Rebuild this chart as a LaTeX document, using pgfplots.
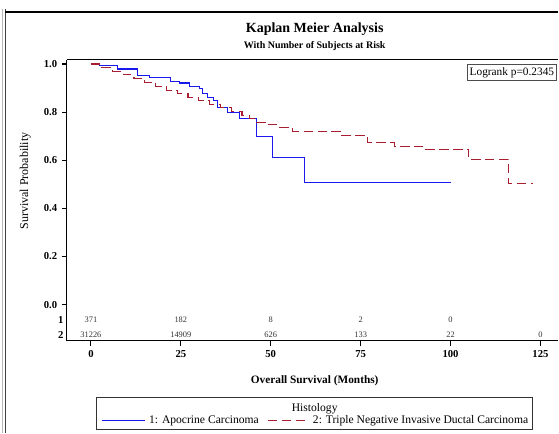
\documentclass[border=0pt]{standalone}
\usepackage{pgfplots}
\pgfplotsset{compat=1.18}
\usepackage{fontspec}
\setmainfont{Liberation Serif}
\definecolor{kmblue}{RGB}{25,25,235}
\definecolor{kmred}{RGB}{170,30,50}
\newcommand{\px}{0.75pt}

\begin{document}
\begin{tikzpicture}
% page area and frame
\path (0,0) rectangle ({559*\px},{-433*\px});
\draw[gray!55, line width=0.7pt] ({2.5*\px},{-9*\px}) -- ({2.5*\px},{-433*\px});
\draw[black!75, line width=0.7pt] ({5.5*\px},{-9*\px}) -- ({5.5*\px},{-433*\px});
\draw[line width=0.8pt] ({5.5*\px},{-12*\px}) -- ({559*\px},{-12*\px});
\draw[line width=0.8pt] ({67*\px},{-60*\px}) -- ({559*\px},{-60*\px});

% titles
\node[font=\fontsize{10.5}{12}\selectfont\bfseries] at ({315*\px},{-29*\px}) {Kaplan Meier Analysis};
\node[font=\fontsize{7.5}{9}\selectfont\bfseries] at ({315*\px},{-46*\px}) {With Number of Subjects at Risk};

\begin{axis}[
  at={({67*\px},{-341*\px})}, anchor=south west,
  scale only axis,
  width={492*\px}, height={281*\px},
  xmin=-6.667, xmax=130,
  ymin=-0.15, ymax=1.0167,
  axis lines*=left,
  axis line style={line width=0.8pt},
  tick align=outside,
  major tick length=3.75pt,
  tick style={line width=0.8pt, black},
  xtick={0,25,50,75,100,125},
  ytick={0,0.2,0.4,0.6,0.8,1.0},
  yticklabel style={/pgf/number format/fixed, /pgf/number format/precision=1, /pgf/number format/fixed zerofill},
  /pgf/number format/assume math mode=true,
  tick label style={font=\fontsize{8}{9}\selectfont\bfseries},
  extra y ticks={-0.0625,-0.125},
  extra y tick labels={1,2},
  extra y tick style={major tick length=0pt, yticklabel style={xshift=1pt}},
  xlabel={Overall Survival (Months)},
  xlabel style={font=\fontsize{8.5}{10}\selectfont\bfseries, at={(axis description cs:0.504,-0.142)}, anchor=center},
  ylabel={Survival Probability},
  ylabel style={font=\fontsize{9}{10}\selectfont, at={(axis description cs:-0.085,0.569)}, anchor=center},
  clip=false,
]
% 1: Apocrine Carcinoma
\addplot[const plot, color=kmblue, line width=0.8pt] coordinates {
  (0,1.0) (2.5,0.992) (7.5,0.979) (13,0.954) (16.4,0.942) (22,0.929)
  (24.7,0.921) (27.5,0.908) (30.3,0.900) (31,0.879) (32.5,0.8625)
  (34,0.850) (35.3,0.820) (38,0.800) (41.4,0.775) (46,0.700)
  (50.5,0.6125) (59.4,0.508) (100,0.508)
};
% 2: Triple Negative Invasive Ductal Carcinoma
\addplot[const plot, color=kmred, line width=0.9pt, dash pattern=on 7pt off 3.5pt] coordinates {
  (0,1.0) (3,0.985) (6,0.970) (9,0.955) (12,0.940) (15,0.923) (18,0.906)
  (21,0.890) (24,0.876) (27,0.862) (30,0.848) (33,0.833) (36,0.818)
  (39,0.802) (42,0.785) (44,0.772) (46,0.758) (49,0.748) (52.5,0.7375)
  (56.1,0.721) (69.7,0.704) (76.9,0.675) (84.4,0.658) (92.2,0.646)
  (105,0.604) (116.1,0.504) (122.8,0.504)
};
% numbers at risk
\addplot[draw=none, mark=none, nodes near coords, point meta=explicit symbolic,
  every node near coord/.style={anchor=center, font=\fontsize{6.3}{7}\selectfont, text=black!80}]
  coordinates {
  (0,-0.0625)[371] (25,-0.0625)[182] (50,-0.0625)[8] (75,-0.0625)[2] (100,-0.0625)[0]
  (0,-0.125)[31226] (25,-0.125)[14909] (50,-0.125)[626] (75,-0.125)[133] (100,-0.125)[22] (125,-0.125)[0]
};
\end{axis}

% logrank box
\node[draw=black!70, line width=0.6pt, anchor=north east, inner sep=1.5pt, minimum height={16*\px},
  font=\fontsize{8.5}{10}\selectfont] at ({557*\px},{-64*\px}) {Logrank p=0.2345};

% legend
\draw[line width=0.7pt, black!80] ({97*\px},{-398*\px}) rectangle ({533*\px},{-430*\px});
\node[font=\fontsize{8.7}{10}\selectfont] at ({315*\px},{-409*\px}) {Histology};
\draw[kmblue, line width=0.8pt] ({102*\px},{-421*\px}) -- ({145*\px},{-421*\px});
\node[anchor=west, inner sep=0pt, font=\fontsize{8.7}{10}\selectfont] at ({149*\px},{-421*\px}) {1: Apocrine Carcinoma};
\draw[kmred, line width=0.9pt, dash pattern=on 7pt off 3.5pt] ({268*\px},{-421*\px}) -- ({308*\px},{-421*\px});
\node[anchor=west, inner sep=0pt, font=\fontsize{8.7}{10}\selectfont] at ({313*\px},{-421*\px}) {2: Triple Negative Invasive Ductal Carcinoma};
\end{tikzpicture}
\end{document}
